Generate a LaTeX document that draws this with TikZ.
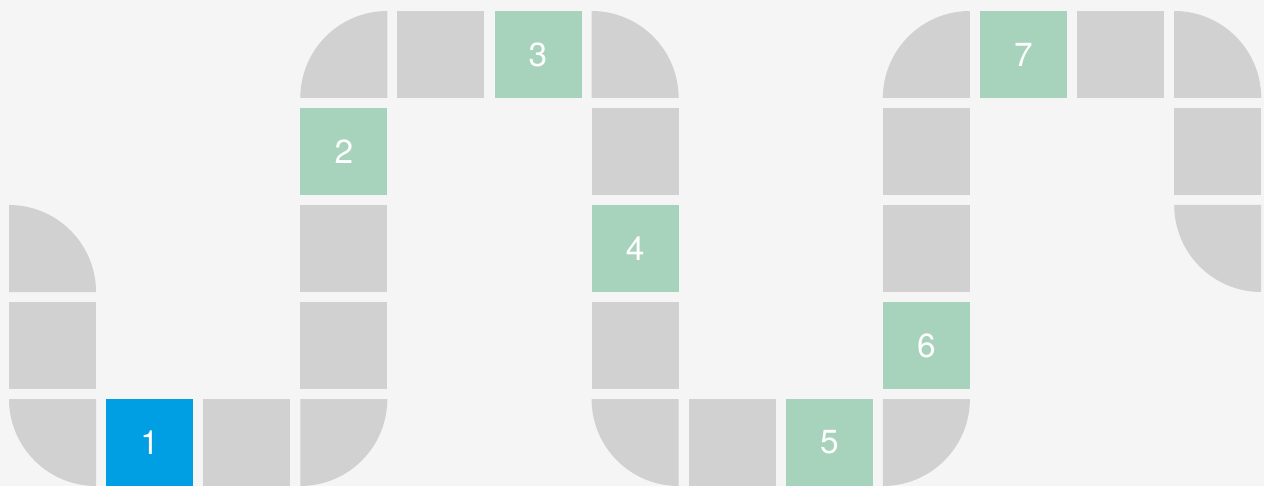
\documentclass[tikz,border=0pt]{standalone}
\usepackage{fontspec}
\setmainfont{TeX Gyre Heros}
\usepackage{tikz}
\usetikzlibrary{calc}

\definecolor{pagebg}{HTML}{F5F5F5}
\definecolor{tilegray}{HTML}{D1D1D1}
\definecolor{tilegreen}{HTML}{A7D3BC}
\definecolor{tileblue}{HTML}{009FE3}

\begin{document}
\begin{tikzpicture}[x=1.942cm, y=1.94cm, font=\fontsize{19}{23}\selectfont]
    \tikzset{
        tile/.style={fill=tilegray, minimum size=1.74cm, inner sep=0pt},
        steptile/.style={tile, fill=tilegreen, text=white},
        starttile/.style={tile, fill=tileblue, text=white},
        curvetile/.style={fill=tilegray},
    }
    \fill[pagebg] (-1.05cm,-0.87cm) rectangle (24.23cm,8.85cm);
    \useasboundingbox (-1.05cm,-0.87cm) rectangle (24.23cm,8.85cm);

    % plain tiles
    \node[tile] (a1) at (0,1) {};
    \node[tile] (a2) at (2,0) {};
    \node[tile] (a3) at (3,1) {};
    \node[tile] (a4) at (3,2) {};
    \node[tile] (a5) at (4,4) {};
    \node[tile] (a6) at (6,3) {};
    \node[tile] (a7) at (6,1) {};
    \node[tile] (a8) at (7,0) {};
    \node[tile] (a9) at (9,2) {};
    \node[tile] (a10) at (9,3) {};
    \node[tile] (a11) at (11,4) {};
    \node[tile] (a12) at (12,3) {};

    % numbered tiles
    \node[starttile] (s1) at (1,0) {1};
    \node[steptile] (s2) at (3,3) {2};
    \node[steptile] (s3) at (5,4) {3};
    \node[steptile] (s4) at (6,2) {4};
    \node[steptile] (s5) at (8,0) {5};
    \node[steptile] (s6) at (9,1) {6};
    \node[steptile] (s7) at (10,4) {7};

    % rounded corner tiles
    \coordinate (b1) at (0,2);
    \fill[curvetile] ($(b1)+(-0.87cm,-0.87cm)$) -- ++(0:1.74cm) arc[start angle=0, end angle=90, radius=1.74cm] -- cycle;
    \coordinate (b2) at (0,0);
    \fill[curvetile] ($(b2)+(0.87cm,0.87cm)$) -- ++(180:1.74cm) arc[start angle=180, end angle=270, radius=1.74cm] -- cycle;
    \coordinate (b3) at (3,0);
    \fill[curvetile] ($(b3)+(-0.87cm,0.87cm)$) -- ++(270:1.74cm) arc[start angle=270, end angle=360, radius=1.74cm] -- cycle;
    \coordinate (b4) at (3,4);
    \fill[curvetile] ($(b4)+(0.87cm,-0.87cm)$) -- ++(90:1.74cm) arc[start angle=90, end angle=180, radius=1.74cm] -- cycle;
    \coordinate (b5) at (6,4);
    \fill[curvetile] ($(b5)+(-0.87cm,-0.87cm)$) -- ++(0:1.74cm) arc[start angle=0, end angle=90, radius=1.74cm] -- cycle;
    \coordinate (b6) at (6,0);
    \fill[curvetile] ($(b6)+(0.87cm,0.87cm)$) -- ++(180:1.74cm) arc[start angle=180, end angle=270, radius=1.74cm] -- cycle;
    \coordinate (b7) at (9,0);
    \fill[curvetile] ($(b7)+(-0.87cm,0.87cm)$) -- ++(270:1.74cm) arc[start angle=270, end angle=360, radius=1.74cm] -- cycle;
    \coordinate (b8) at (9,4);
    \fill[curvetile] ($(b8)+(0.87cm,-0.87cm)$) -- ++(90:1.74cm) arc[start angle=90, end angle=180, radius=1.74cm] -- cycle;
    \coordinate (b9) at (12,4);
    \fill[curvetile] ($(b9)+(-0.87cm,-0.87cm)$) -- ++(0:1.74cm) arc[start angle=0, end angle=90, radius=1.74cm] -- cycle;
    \coordinate (b10) at (12,2);
    \fill[curvetile] ($(b10)+(0.87cm,0.87cm)$) -- ++(180:1.74cm) arc[start angle=180, end angle=270, radius=1.74cm] -- cycle;
\end{tikzpicture}
\end{document}
